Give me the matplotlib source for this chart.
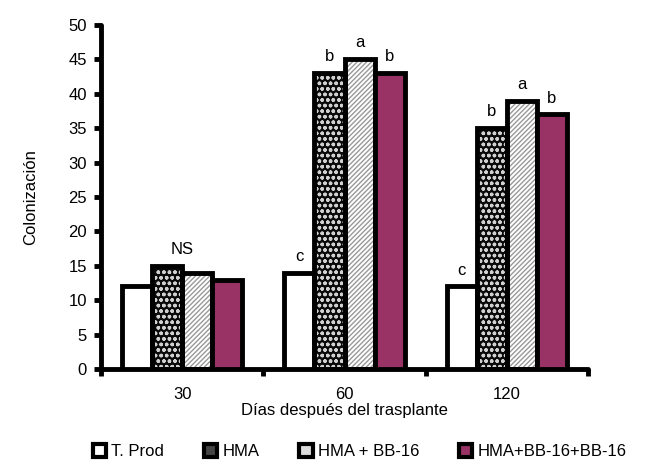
import numpy as np
import matplotlib
matplotlib.use("Agg")
import matplotlib.pyplot as plt
from matplotlib.patches import Patch

plt.rcParams['font.family'] = ['Liberation Sans', 'DejaVu Sans']
plt.rcParams['hatch.linewidth'] = 1.0

# data
days = ['30', '60', '120']
series = ['T. Prod', 'HMA', 'HMA + BB-16', 'HMA+BB-16+BB-16']
t_prod = [12, 14, 12]
hma = [15, 43, 35]
hma_bb = [14, 45, 39]
hma_bb_bb = [13, 43, 37]
letters = [['', 'c', 'c'], ['', 'b', 'b'], ['', 'a', 'a'], ['', 'b', 'b']]
ns_label = 'NS'

values = [t_prod, hma, hma_bb, hma_bb_bb]

fig = plt.figure(figsize=(6.6, 4.63), dpi=100)
ax = fig.add_axes([0.153, 0.203, 0.738, 0.743])

x = np.arange(len(days))
w = 0.185
lw = 3.5

for i, vals in enumerate(values):
    pos = x + (i - 1.5) * w
    if i == 0:
        ax.bar(pos, vals, w, facecolor='white', edgecolor='black', linewidth=lw, zorder=3)
    elif i == 1:
        ax.bar(pos, vals, w, facecolor='#0a0a0a', edgecolor='#d0d0d0', hatch='ooo',
               linewidth=0, zorder=2)
        ax.bar(pos, vals, w, facecolor='none', edgecolor='black', linewidth=lw, zorder=3)
    elif i == 2:
        ax.bar(pos, vals, w, facecolor='white', edgecolor='#999999', hatch='///////',
               linewidth=0, zorder=2)
        ax.bar(pos, vals, w, facecolor='none', edgecolor='black', linewidth=lw, zorder=3)
    else:
        ax.bar(pos, vals, w, facecolor='#993366', edgecolor='black', linewidth=lw, zorder=3)
    for j, v in enumerate(vals):
        if letters[i][j]:
            ax.text(pos[j], v + 1.3, letters[i][j], ha='center', va='bottom', fontsize=12)

ax.text(x[0], max(hma[0], t_prod[0]) + 1.3, ns_label, ha='center', va='bottom', fontsize=12)

ax.set_xlim(-0.5, 2.5)
ax.set_ylim(0, 50)
ax.set_yticks(np.arange(0, 51, 5))
ax.set_xticks([-0.5, 0.5, 1.5, 2.5])
ax.set_xticklabels([])
ax.set_xticks(x, minor=True)
ax.set_xticklabels(days, minor=True, fontsize=12)
ax.tick_params(axis='x', which='minor', length=0, pad=13)
ax.tick_params(axis='both', which='major', direction='out', length=5, width=3.5)
ax.tick_params(axis='y', labelsize=12, pad=5)

for s in ['top', 'right']:
    ax.spines[s].set_visible(False)
for s in ['left', 'bottom']:
    ax.spines[s].set_linewidth(3.5)
    ax.spines[s].set_capstyle('round')

ax.set_ylabel('Colonización', fontsize=12, labelpad=22)
ax.set_xlabel('Días después del trasplante', fontsize=12, labelpad=1)

handles = [
    Patch(facecolor='white', edgecolor='black', linewidth=3),
    Patch(facecolor='#444444', edgecolor='black', linewidth=3),
    Patch(facecolor='#dddddd', edgecolor='black', linewidth=3),
    Patch(facecolor='#993366', edgecolor='black', linewidth=3),
]
fig.legend(handles, series, loc='center', bbox_to_anchor=(0.545, 0.024), ncol=4,
           frameon=False, fontsize=12, handlelength=0.8, handleheight=0.8,
           handletextpad=0.3, columnspacing=2.4)

fig.savefig('out.png', dpi=100)
